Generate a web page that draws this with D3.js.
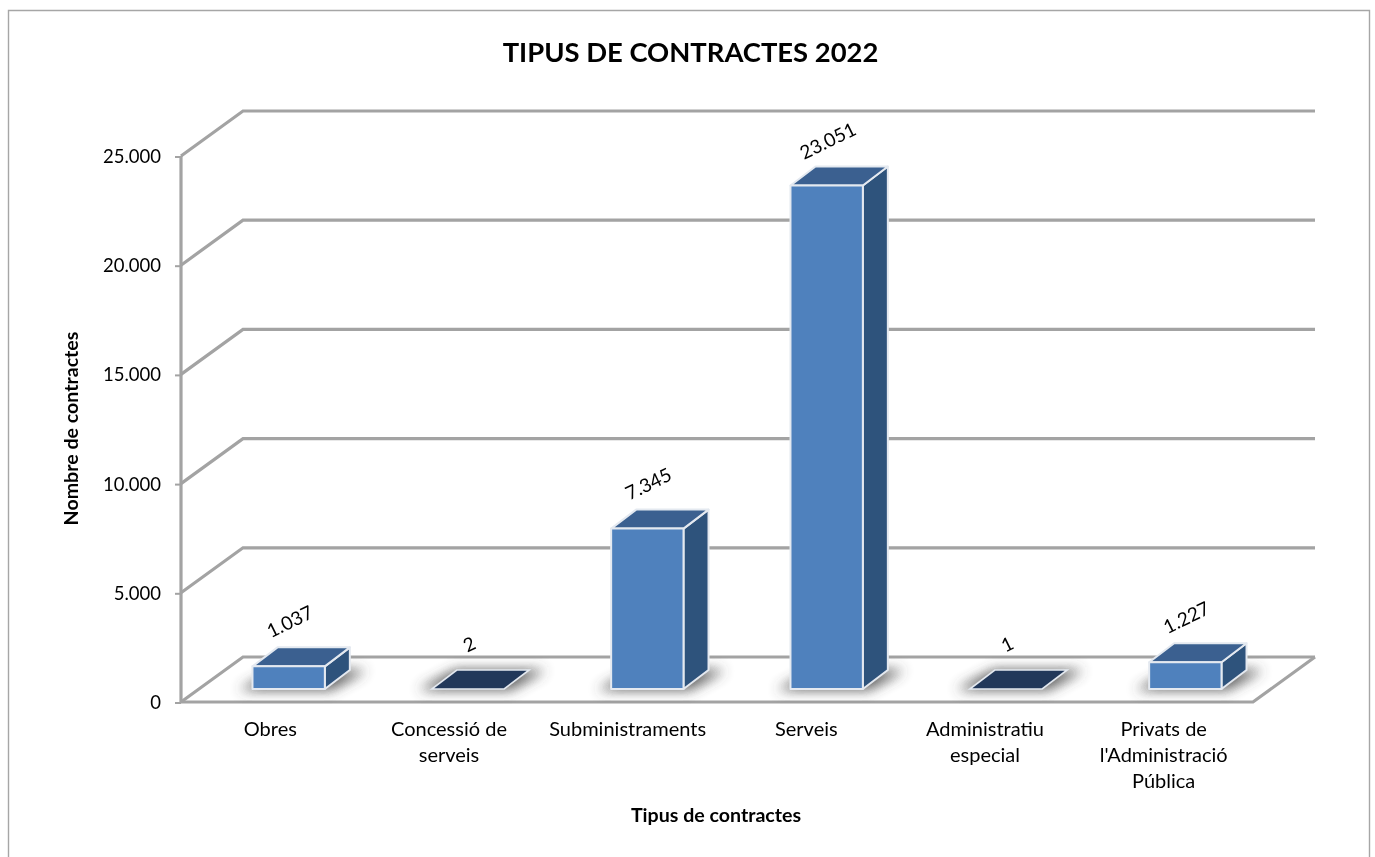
<!DOCTYPE html>
<html><head><meta charset="utf-8">
<script src="https://cdn.jsdelivr.net/npm/d3@7/dist/d3.min.js"></script>
<style>html,body{margin:0;padding:0;background:#fff;overflow:hidden}svg{display:block}text{font-family:Lato,"Open Sans",sans-serif;fill:#000}</style>
</head><body><svg id="c" width="1375" height="857"></svg>
<script>
const categories=[["Obres"],["Concessió de","serveis"],["Subministraments"],["Serveis"],["Administratiu","especial"],["Privats de","l'Administració","Pública"]];
const values=[1037,2,7345,23051,1,1227];
const valueLabels=["1.037","2","7.345","23.051","1","1.227"];
const ticks=[0,5000,10000,15000,20000,25000];
const title="TIPUS DE CONTRACTES 2022";
const xTitle="Tipus de contractes";
const yTitle="Nombre de contractes";

const root=d3.select("#c");
const defs=root.append("defs");
defs.append("filter").attr("id","shadow").attr("filterUnits","userSpaceOnUse").attr("x",0).attr("y",600).attr("width",1375).attr("height",140)
  .append("feGaussianBlur").attr("stdDeviation",6.5);
defs.append("filter").attr("id","soft").attr("filterUnits","userSpaceOnUse").attr("x",0).attr("y",0).attr("width",1375).attr("height",857)
  .append("feGaussianBlur").attr("stdDeviation",0.4);
const svg=root.append("g").attr("filter","url(#soft)");

svg.append("path").attr("d","M8.5,870V10.5H1369.5V870").attr("fill","none").attr("stroke","#a6a6a6").attr("stroke-width",1.4);

const y=d3.scaleLinear().domain([0,25000]).range([702,156]);
const x=d3.scaleBand().domain(d3.range(categories.length)).range([181,1253]);
const xBar=d3.scaleBand().domain(d3.range(categories.length)).range([181,1257]);
const wall={dx:62,dy:-45}, bar={dx:25,dy:-19}, lift={dx:18,dy:-13};
const line=d3.line();
const grey="#a3a3a3";

const grid=svg.append("g").attr("fill","none").attr("stroke",grey).attr("stroke-width",3.2).attr("stroke-linejoin","miter");
ticks.forEach(t=>{
  const p=[[x.range()[0],y(t)],[x.range()[0]+wall.dx,y(t)+wall.dy],[x.range()[1]+wall.dx,y(t)+wall.dy]];
  grid.append("path").attr("d",line(p));
});
grid.append("path").attr("d",line([[x.range()[1]+wall.dx,y(0)+wall.dy],[x.range()[1],y(0)],[x.range()[0],y(0)],[x.range()[0],y(25000)]]));

const ax=svg.append("g").attr("transform",`translate(${x.range()[0]},0.5)`)
  .call(d3.axisLeft(y).tickValues(ticks).tickSize(6).tickPadding(14).tickFormat(d=>d3.format(",")(d).replace(/,/g,".")));
ax.select(".domain").remove();
ax.selectAll(".tick line").attr("stroke",grey).attr("stroke-width",2);
ax.selectAll("text").attr("font-size",18.5).style("fill","#000");

const base=y(0)+lift.dy;
const bw=x.bandwidth()*0.405;
const g=svg.append("g");
values.forEach((v,i)=>{
  const cx=xBar(i)+xBar.bandwidth()/2+lift.dx, l=cx-bw/2, r=cx+bw/2, h=y(0)-y(v), t=base-h;
  const flat=h<1;
  g.append("path").attr("filter","url(#shadow)").attr("fill","#3c3c3c").attr("opacity",.85)
    .attr("d",line([[l-14,base+1],[r+6,base+1],[r+42,base-19],[l+24,base-19]])+"Z");
  if(flat){
    g.append("path").attr("fill","#24395a").attr("stroke","#e4e9f0").attr("stroke-width",1.6)
      .attr("d",line([[l,base],[r,base],[r+bar.dx,base+bar.dy],[l+bar.dx,base+bar.dy]])+"Z");
  } else {
    const s=g.append("g").attr("stroke","#e4e9f0").attr("stroke-width",2).attr("stroke-linejoin","round");
    s.append("path").attr("fill","#2f527c").attr("d",line([[r,base],[r+bar.dx,base+bar.dy],[r+bar.dx,t+bar.dy],[r,t]])+"Z");
    s.append("path").attr("fill","#3a6090").attr("d",line([[l,t],[r,t],[r+bar.dx,t+bar.dy],[l+bar.dx,t+bar.dy]])+"Z");
    s.append("rect").attr("x",l).attr("y",t).attr("width",r-l).attr("height",h).attr("fill","#4f81bd");
  }
  svg.append("text").attr("text-anchor","middle").attr("dominant-baseline","middle").attr("font-size",19)
    .attr("transform",`translate(${cx+2},${t-43}) rotate(-26)`).text(valueLabels[i]);
});

categories.forEach((c,i)=>{
  const t=svg.append("text").attr("text-anchor","middle").attr("font-size",20);
  c.forEach((s,j)=>t.append("tspan").attr("x",x(i)+x.bandwidth()/2).attr("y",735.5+j*26).text(s));
});

svg.append("text").attr("x",690.5).attr("y",62).attr("text-anchor","middle").attr("font-size",27.4).attr("font-weight",700).text(title);
svg.append("text").attr("x",716).attr("y",822).attr("text-anchor","middle").attr("font-size",19.6).attr("font-weight",700).text(xTitle);
svg.append("text").attr("transform","translate(78,428.5) rotate(-90)").attr("text-anchor","middle").attr("font-size",19.6).attr("font-weight",700).text(yTitle);
</script></body></html>
